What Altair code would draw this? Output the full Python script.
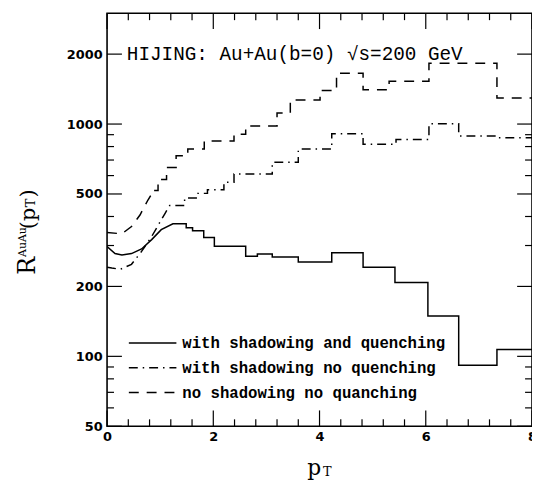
import altair as alt
import pandas as pd

# ---------------- data ----------------
# with shadowing and quenching (solid)
sq_curve_pt = [0.0, 0.15, 0.28, 0.46, 0.65, 0.84, 1.02, 1.24]
sq_curve_r = [297, 277, 273, 277, 290, 318, 351, 372]
sq_edges = [1.24, 1.49, 1.61, 1.82, 2.02, 2.61, 2.83, 3.11, 3.60, 4.23, 4.82, 5.42, 6.04, 6.62, 7.34, 8.0]
sq_vals = [372, 358, 347, 325, 298, 270, 276, 268, 255, 279, 242, 208, 149, 91.5, 107]

# with shadowing no quenching (dash-dot)
snq_curve_pt = [0.0, 0.09, 0.25, 0.46, 0.65, 0.84, 1.09, 1.18]
snq_curve_r = [242, 240, 237, 249, 283, 328, 412, 446]
snq_edges = [1.18, 1.46, 1.71, 1.89, 2.20, 2.39, 3.11, 3.60, 4.23, 4.82, 5.44, 6.06, 6.62, 7.34, 8.0]
snq_vals = [446, 481, 503, 521, 561, 609, 684, 780, 909, 818, 859, 1002, 889, 874]

# no shadowing no quenching (dashed)
nn_curve_pt = [0.0, 0.28, 0.46, 0.62, 0.77, 0.84]
nn_curve_r = [341, 337, 362, 406, 471, 500]
nn_edges = [0.84, 0.96, 1.12, 1.30, 1.52, 1.83, 2.39, 2.61, 3.20, 3.45, 4.01, 4.32, 4.82, 5.31, 6.06, 7.34, 8.0]
nn_vals = [518, 577, 650, 730, 780, 846, 903, 980, 1117, 1268, 1394, 1656, 1406, 1528, 1828, 1294]

legend_labels = ["with shadowing and quenching",
                 "with shadowing no quenching",
                 "no shadowing no quanching"]
title_text = "HIJING: Au+Au(b=0) \u221as=200 GeV"

x_major = [0, 2, 4, 6, 8]
x_minor = [0.4, 0.8, 1.2, 1.6, 2.4, 2.8, 3.2, 3.6, 4.4, 4.8, 5.2, 5.6, 6.4, 6.8, 7.2, 7.6]
y_major = [50, 100, 200, 500, 1000, 2000]
y_minor = [60, 70, 80, 90, 300, 400, 600, 700, 800, 900]

W, H = 429, 417


def series_df(cpt, cr, edges, vals):
    pts = list(zip(cpt, cr))
    for i, v in enumerate(vals):
        pts.append((edges[i], v))
        pts.append((edges[i + 1], v))
    return pd.DataFrame({"pT": [p for p, _ in pts],
                         "R": [r for _, r in pts],
                         "i": list(range(len(pts)))})


xs = alt.Scale(domain=[0, 8], nice=False, zero=False)
ys = alt.Scale(type="log", domain=[50, 3000], nice=False)

x_axis = alt.Axis(values=x_major, ticks=False, domain=False, grid=False, title=None,
                  labelFont="DejaVu Sans", labelFontWeight="bold", labelFontSize=13,
                  labelPadding=4, labelFlush=False, labelColor="black", format="d")
y_axis = alt.Axis(values=y_major, ticks=False, domain=False, grid=False, title=None,
                  labelFont="DejaVu Sans", labelFontWeight="bold", labelFontSize=13,
                  labelPadding=5, labelColor="black", format="d")


def line_layer(df, dash):
    kw = dict(color="black", strokeWidth=1.5, clip=True)
    if dash:
        kw["strokeDash"] = dash
    return alt.Chart(df).mark_line(**kw).encode(
        x=alt.X("pT:Q", scale=xs, axis=x_axis),
        y=alt.Y("R:Q", scale=ys, axis=y_axis),
        order="i:Q",
    )


DASH_DD = [9, 5, 1.5, 5]
DASH_D = [10, 8]

lines = [
    line_layer(series_df(sq_curve_pt, sq_curve_r, sq_edges, sq_vals), None),
    line_layer(series_df(snq_curve_pt, snq_curve_r, snq_edges, snq_vals), DASH_DD),
    line_layer(series_df(nn_curve_pt, nn_curve_r, nn_edges, nn_vals), DASH_D),
]


# ticks (drawn inward on all four sides)
def xticks(vals, length):
    df = pd.DataFrame({"pT": vals})
    bot = alt.Chart(df).mark_rule(color="black", strokeWidth=1.2).encode(
        x=alt.X("pT:Q", scale=xs), y=alt.value(H), y2=alt.value(H - length))
    top = alt.Chart(df).mark_rule(color="black", strokeWidth=1.2).encode(
        x=alt.X("pT:Q", scale=xs), y=alt.value(0), y2=alt.value(length))
    return [bot, top]


def yticks(vals, length):
    df = pd.DataFrame({"R": vals})
    left = alt.Chart(df).mark_rule(color="black", strokeWidth=1.2).encode(
        y=alt.Y("R:Q", scale=ys), x=alt.value(0), x2=alt.value(length))
    right = alt.Chart(df).mark_rule(color="black", strokeWidth=1.2).encode(
        y=alt.Y("R:Q", scale=ys), x=alt.value(W - length), x2=alt.value(W))
    return [left, right]


ticks = xticks(x_major, 16) + xticks(x_minor, 7) + yticks(y_major, 15) + yticks(y_minor, 7)

# legend inside plot
leg_layers = []
leg_y = [333, 358, 383]
leg_dash = [None, DASH_DD, DASH_D]
for lab, yy, dash in zip(legend_labels, leg_y, leg_dash):
    d = pd.DataFrame({"label": [lab]})
    kw = dict(color="black", strokeWidth=1.5)
    if dash:
        kw["strokeDash"] = dash
    leg_layers.append(alt.Chart(d).mark_rule(**kw).encode(
        x=alt.value(22), x2=alt.value(70), y=alt.value(yy)))
    leg_layers.append(alt.Chart(d).mark_text(
        align="left", baseline="middle", font="Liberation Mono", fontWeight="bold",
        fontSize=15.8, color="black").encode(
        x=alt.value(76), y=alt.value(yy), text="label:N"))

# title inside plot
tdf = pd.DataFrame({"t": [title_text]})
title_layer = alt.Chart(tdf).mark_text(
    align="left", baseline="alphabetic", font="Liberation Mono", fontSize=19.5,
    color="black").encode(x=alt.value(20), y=alt.value(47), text="t:N")


# axis titles with sub/superscripts
def txt(s, x, y, size, angle=0):
    d = pd.DataFrame({"s": [s]})
    kw = dict(align="left", baseline="alphabetic", font="DejaVu Serif",
              fontSize=size, color="black")
    if angle:
        kw["angle"] = angle
    return alt.Chart(d).mark_text(**kw).encode(x=alt.value(x), y=alt.value(y), text="s:N")


axis_titles = [
    txt("p", 202, 466, 22),
    txt("T", 218, 467, 13),
    txt("R", -73, 264, 24, 270),
    txt("AuAu", -82, 246, 11, 270),
    txt("(p", -73, 218, 21, 270),
    txt("T", -73, 196, 13, 270),
    txt(")", -73, 186, 21, 270),
]

chart = alt.layer(*lines, *ticks, *leg_layers, title_layer, *axis_titles).properties(
    width=W, height=H,
    padding={"left": 100, "top": 3, "right": 0, "bottom": 55},
    autosize=alt.AutoSizeParams(type="none"),
).configure_view(stroke="black", strokeWidth=1.6)

chart.save("out.html", embed_options={"renderer": "svg", "actions": False})
